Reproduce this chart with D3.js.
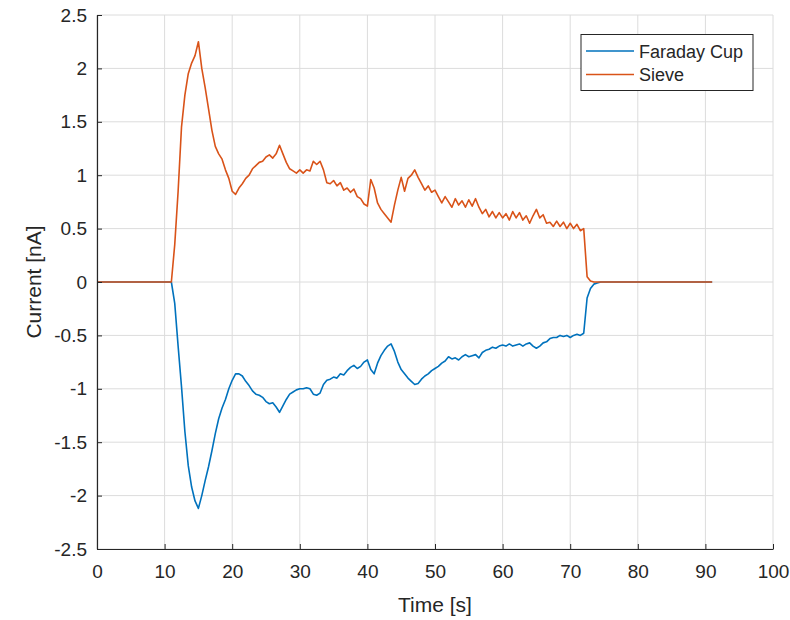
<!DOCTYPE html>
<html>
<head>
<meta charset="utf-8">
<script src="https://cdn.jsdelivr.net/npm/d3@7"></script>
<style>
  body { margin: 0; background: #fff; }
  svg text { font-family: "Liberation Sans", Arial, sans-serif; }
</style>
</head>
<body>
<div id="chart"></div>
<script>
"use strict"

// time samples [s]
var timeS = [0, 11, 11.5, 12, 12.5, 13, 13.5, 14, 14.5, 15, 15.5, 16, 16.5, 17, 17.5, 18, 18.5, 19, 19.5,
  20, 20.5, 21, 21.5, 22, 22.5, 23, 23.5, 24, 24.5, 25, 25.5, 26, 26.5, 27, 27.5, 28, 28.5, 29, 29.5,
  30, 30.5, 31, 31.5, 32, 32.5, 33, 33.5, 34, 34.5, 35, 35.5, 36, 36.5, 37, 37.5, 38, 38.5, 39, 39.5,
  40, 40.5, 41, 41.5, 42, 42.5, 43, 43.5, 44, 44.5, 45, 45.5, 46, 46.5, 47, 47.5, 48, 48.5, 49, 49.5,
  50, 50.5, 51, 51.5, 52, 52.5, 53, 53.5, 54, 54.5, 55, 55.5, 56, 56.5, 57, 57.5, 58, 58.5, 59, 59.5,
  60, 60.5, 61, 61.5, 62, 62.5, 63, 63.5, 64, 64.5, 65, 65.5, 66, 66.5, 67, 67.5, 68, 68.5, 69, 69.5,
  70, 70.5, 71, 71.5, 72, 72.5, 73, 73.5, 74, 74.5, 91];

// Faraday Cup current [nA]
var faradayCup = [0, 0, -0.2, -0.6, -0.98, -1.4, -1.72, -1.92, -2.05, -2.12, -2.0, -1.86, -1.73, -1.58, -1.42, -1.28, -1.18, -1.1, -1.0,
  -0.92, -0.86, -0.86, -0.88, -0.93, -0.97, -1.02, -1.05, -1.06, -1.08, -1.12, -1.14, -1.13, -1.17, -1.22, -1.16, -1.1, -1.05, -1.03, -1.01,
  -1.0, -1.0, -0.99, -1.0, -1.05, -1.06, -1.04, -0.96, -0.92, -0.91, -0.89, -0.9, -0.86, -0.87, -0.83, -0.8, -0.78, -0.81, -0.79, -0.75,
  -0.73, -0.82, -0.86, -0.76, -0.69, -0.64, -0.6, -0.58, -0.65, -0.75, -0.82, -0.86, -0.9, -0.93, -0.96, -0.95, -0.91, -0.88, -0.86, -0.83,
  -0.81, -0.79, -0.76, -0.74, -0.7, -0.72, -0.71, -0.73, -0.7, -0.68, -0.7, -0.69, -0.68, -0.71, -0.66, -0.64, -0.63, -0.61, -0.62, -0.6,
  -0.59, -0.6, -0.58, -0.6, -0.59, -0.58, -0.6, -0.58, -0.57, -0.6, -0.62, -0.6, -0.57, -0.56, -0.53, -0.52, -0.52, -0.5, -0.51, -0.5,
  -0.52, -0.5, -0.49, -0.5, -0.48, -0.15, -0.06, -0.02, -0.01, 0, 0];

// Sieve current [nA]
var sieve = [0, 0, 0.35, 0.85, 1.45, 1.75, 1.95, 2.05, 2.12, 2.25, 2.0, 1.82, 1.62, 1.42, 1.27, 1.2, 1.15, 1.05, 0.97,
  0.85, 0.82, 0.88, 0.92, 0.97, 1.0, 1.06, 1.09, 1.12, 1.13, 1.17, 1.19, 1.16, 1.2, 1.28, 1.2, 1.12, 1.06, 1.04, 1.02,
  1.05, 1.02, 1.05, 1.04, 1.13, 1.1, 1.13, 1.05, 0.93, 0.92, 0.95, 0.9, 0.93, 0.86, 0.88, 0.84, 0.87, 0.8, 0.78, 0.73,
  0.71, 0.96, 0.88, 0.74, 0.68, 0.64, 0.6, 0.56, 0.72, 0.86, 0.98, 0.85, 0.97, 1.0, 1.05, 0.98, 0.92, 0.86, 0.9, 0.84,
  0.86, 0.8, 0.74, 0.8, 0.75, 0.7, 0.78, 0.72, 0.76, 0.7, 0.77, 0.71, 0.78, 0.7, 0.64, 0.68, 0.61, 0.66, 0.6, 0.65,
  0.6, 0.64, 0.58, 0.66, 0.6, 0.65, 0.58, 0.62, 0.55, 0.62, 0.68, 0.6, 0.63, 0.55, 0.56, 0.52, 0.57, 0.52, 0.56, 0.5,
  0.55, 0.5, 0.54, 0.48, 0.5, 0.05, 0.01, 0, 0, 0, 0];

var xTicks = [0, 10, 20, 30, 40, 50, 60, 70, 80, 90, 100],
  yTicks = [-2.5, -2, -1.5, -1, -0.5, 0, 0.5, 1, 1.5, 2, 2.5];

var seriesNames = ["Faraday Cup", "Sieve"],
  seriesColors = ["#0072BD", "#D95319"];

var width = 790, height = 620,
  margin = {top: 15, right: 17, bottom: 71, left: 97},
  innerW = width - margin.left - margin.right,
  innerH = height - margin.top - margin.bottom,
  axisColor = "#262626";

var svg = d3.select("#chart").append("svg")
  .attr("width", width)
  .attr("height", height);

var g = svg.append("g")
  .attr("transform", "translate(" + margin.left + "," + margin.top + ")");

var x = d3.scaleLinear().domain([0, 100]).range([0, innerW]);
var y = d3.scaleLinear().domain([-2.5, 2.5]).range([innerH, 0]);

// grid
g.append("g").selectAll("line").data(xTicks).enter().append("line")
  .attr("x1", d => x(d)).attr("x2", d => x(d))
  .attr("y1", 0).attr("y2", innerH)
  .attr("stroke", "#dcdcdc").attr("stroke-width", 1);
g.append("g").selectAll("line").data(yTicks).enter().append("line")
  .attr("x1", 0).attr("x2", innerW)
  .attr("y1", d => y(d)).attr("y2", d => y(d))
  .attr("stroke", "#dcdcdc").attr("stroke-width", 1);

// lines
var line = d3.line()
  .x((d, i) => x(timeS[i]))
  .y(d => y(d));

[faradayCup, sieve].forEach(function(vals, k){
  g.append("path")
    .datum(vals)
    .attr("d", line)
    .attr("fill", "none")
    .attr("stroke", seriesColors[k])
    .attr("stroke-width", 1.6)
    .attr("stroke-linejoin", "round");
});

// axes
var xAxis = g.append("g")
  .attr("transform", "translate(0," + innerH + ")")
  .call(d3.axisBottom(x).tickValues(xTicks).tickSizeInner(-5).tickSizeOuter(0).tickPadding(16));
var yAxis = g.append("g")
  .call(d3.axisLeft(y).tickValues(yTicks).tickSizeInner(-5).tickSizeOuter(0).tickPadding(10)
    .tickFormat(d => d));

[xAxis, yAxis].forEach(function(ax){
  ax.select(".domain").attr("stroke", axisColor).attr("stroke-width", 1.2);
  ax.selectAll(".tick line").attr("stroke", axisColor);
  ax.selectAll(".tick text")
    .attr("fill", axisColor)
    .style("font-size", "19px")
    .style("font-family", "'Liberation Sans', Arial, sans-serif");
});

// axis labels
svg.append("text")
  .attr("x", margin.left + innerW / 2)
  .attr("y", 612)
  .attr("text-anchor", "middle")
  .attr("fill", axisColor)
  .style("font-size", "21px")
  .text("Time [s]");

svg.append("text")
  .attr("transform", "translate(41," + (margin.top + innerH / 2) + ") rotate(-90)")
  .attr("text-anchor", "middle")
  .attr("fill", axisColor)
  .style("font-size", "21px")
  .text("Current [nA]");

// legend
var legend = svg.append("g").attr("transform", "translate(581,34.5)");
legend.append("rect")
  .attr("width", 172).attr("height", 56)
  .attr("fill", "#fff")
  .attr("stroke", axisColor).attr("stroke-width", 1);

seriesNames.forEach(function(name, k){
  var ly = 16.5 + k * 23.5;
  legend.append("line")
    .attr("x1", 5).attr("x2", 53)
    .attr("y1", ly).attr("y2", ly)
    .attr("stroke", seriesColors[k]).attr("stroke-width", 1.3);
  legend.append("text")
    .attr("x", 58).attr("y", ly + 6.5)
    .attr("fill", axisColor)
    .style("font-size", "18px")
    .text(name);
});
</script>
</body>
</html>
